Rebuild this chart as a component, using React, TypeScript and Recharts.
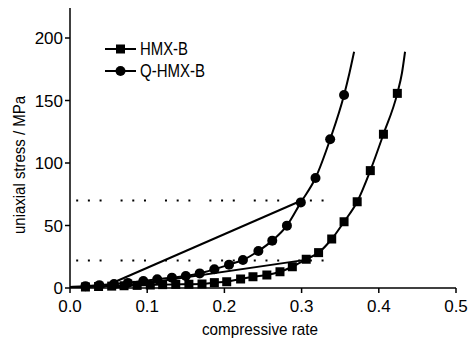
import { Legend, Line, LineChart, XAxis, YAxis } from "recharts";

// Q-HMX-B (circles): strain / stress at the marker positions
const qStrain = [0.02, 0.038, 0.057, 0.075, 0.095, 0.113, 0.132, 0.15, 0.168, 0.187, 0.206, 0.224, 0.244, 0.262, 0.281, 0.299, 0.318, 0.337, 0.355];
const qStress = [1.5, 2.3, 3.2, 4.1, 5.6, 7, 8.3, 9.6, 11.7, 15, 18.7, 22.4, 29.6, 37.9, 49.9, 68.5, 88, 119, 154.4];
// curve continues above the last marker
const qTailStrain = [0.362, 0.368];
const qTailStress = [172, 189];

// HMX-B (squares)
const hmxStrain = [0.02, 0.037, 0.054, 0.07, 0.087, 0.104, 0.12, 0.137, 0.154, 0.171, 0.187, 0.203, 0.221, 0.237, 0.255, 0.272, 0.288, 0.306, 0.322, 0.339, 0.355, 0.372, 0.389, 0.406, 0.424];
const hmxStress = [0.8, 1.2, 1.5, 1.8, 2.1, 2.4, 2.7, 2.9, 3, 3.2, 4.3, 5, 7.2, 9, 10.4, 13, 17, 23, 28.3, 39.2, 53, 69, 93.9, 123, 155.7];
const hmxTailStrain = [0.43, 0.434];
const hmxTailStress = [172, 189];

// straight secant lines
const qSecantStrain = [0.04, 0.3];
const qSecantStress = [0, 70];
const hmxSecantStrain = [0.055, 0.305];
const hmxSecantStress = [0, 22.5];

// dotted guide levels
const guideStrain = [0.008, 0.332];
const guideLevels = [70, 22];

const xTicks = [0, 0.1, 0.2, 0.3, 0.4, 0.5];
const yTicks = [0, 50, 100, 150, 200];

const FONT = "'Liberation Sans', Arial, sans-serif";

type Pt = { x: number; y: number; m?: boolean };

const curve = (xs: number[], ys: number[], tx: number[], ty: number[]): Pt[] => [
  { x: 0, y: 0.8 },
  ...xs.map((x, i) => ({ x, y: ys[i], m: true })),
  ...tx.map((x, i) => ({ x, y: ty[i] })),
];

const segment = (xs: number[], ys: number[]): Pt[] => xs.map((x, i) => ({ x, y: ys[i] }));

const qData = curve(qStrain, qStress, qTailStrain, qTailStress);
const hmxData = curve(hmxStrain, hmxStress, hmxTailStrain, hmxTailStress);

const squareDot = (props: any) => {
  const { cx, cy, payload, index } = props;
  if (!payload.m) return <g key={`s${index}`} />;
  return <rect key={`s${index}`} x={cx - 4.5} y={cy - 4.5} width={9} height={9} fill="#000" />;
};

const circleDot = (props: any) => {
  const { cx, cy, payload, index } = props;
  if (!payload.m) return <g key={`c${index}`} />;
  return <circle key={`c${index}`} cx={cx} cy={cy} r={5} fill="#000" />;
};

const legendRows = [
  { name: "HMX-B", marker: "square", width: 48 },
  { name: "Q-HMX-B", marker: "circle", width: 65 },
];

// the original uses a narrow face; squeeze the text to its measured width
function ChartLegend() {
  return (
    <svg width={120} height={46}>
      {legendRows.map((row, i) => {
        const y = 11 + i * 22;
        return (
          <g key={row.name}>
            <line x1={0} y1={y} x2={31} y2={y} stroke="#000" strokeWidth={2} />
            {row.marker === "square" ? (
              <rect x={11} y={y - 4.5} width={9} height={9} fill="#000" />
            ) : (
              <circle cx={15.5} cy={y} r={5} fill="#000" />
            )}
            <text x={35} y={y} dominantBaseline="central" fontFamily={FONT} fontSize={18} fill="#000" textLength={row.width} lengthAdjust="spacingAndGlyphs">
              {row.name}
            </text>
          </g>
        );
      })}
    </svg>
  );
}

const YTitle = (props: any) => {
  const { viewBox } = props;
  const x = 19;
  const y = viewBox.y + viewBox.height / 2 + 17;
  return (
    <text x={x} y={y} transform={`rotate(-90 ${x} ${y})`} textAnchor="middle" dominantBaseline="central" fontFamily={FONT} fontSize={17} fill="#000" textLength={138} lengthAdjust="spacingAndGlyphs">
      uniaxial stress / MPa
    </text>
  );
};

const XTitle = (props: any) => {
  const { viewBox } = props;
  const x = viewBox.x + viewBox.width / 2 - 3;
  return (
    <text x={x} y={329} textAnchor="middle" dominantBaseline="central" fontFamily={FONT} fontSize={17} fill="#000" textLength={116} lengthAdjust="spacingAndGlyphs">
      compressive rate
    </text>
  );
};

export default function App() {
  const tickStyle = { fontFamily: FONT, fontSize: 17, fill: "#000" };
  return (
    <div style={{ position: "fixed", left: 0, top: 0, width: 470, height: 342, background: "#fff" }}>
      <LineChart width={470} height={342} margin={{ top: 8, right: 14, left: 0, bottom: 0 }}>
        <XAxis
          dataKey="x"
          type="number"
          domain={[0, 0.5]}
          ticks={xTicks}
          tickFormatter={(v: number) => v.toFixed(1)}
          allowDuplicatedCategory={false}
          height={54}
          stroke="#000"
          strokeWidth={1.5}
          tickSize={5}
          tickMargin={7}
          tick={tickStyle}
          label={<XTitle />}
        />
        <YAxis
          dataKey="y"
          type="number"
          domain={[0, 224]}
          ticks={yTicks}
          width={70}
          stroke="#000"
          strokeWidth={1.5}
          tickSize={5}
          tickMargin={2}
          tick={tickStyle}
          label={<YTitle />}
        />
        <Legend layout="vertical" align="center" verticalAlign="middle" wrapperStyle={{ left: 105, top: 38, width: 120 }} content={<ChartLegend />} />
        {guideLevels.map((lvl, i) => (
          <Line
            key={`guide${i}`}
            data={segment(guideStrain, guideStrain.map(() => lvl))}
            dataKey="y"
            stroke="#000"
            strokeWidth={2}
            strokeDasharray="2 9.7 2 9.7 2 19"
            dot={false}
            legendType="none"
            isAnimationActive={false}
          />
        ))}
        <Line data={segment(qSecantStrain, qSecantStress)} dataKey="y" stroke="#000" strokeWidth={2} dot={false} legendType="none" isAnimationActive={false} />
        <Line data={segment(hmxSecantStrain, hmxSecantStress)} dataKey="y" stroke="#000" strokeWidth={2} dot={false} legendType="none" isAnimationActive={false} />
        <Line name="HMX-B" data={hmxData} dataKey="y" type="monotone" stroke="#000" strokeWidth={2} dot={squareDot} isAnimationActive={false} />
        <Line name="Q-HMX-B" data={qData} dataKey="y" type="monotone" stroke="#000" strokeWidth={2} dot={circleDot} isAnimationActive={false} />
      </LineChart>
    </div>
  );
}
